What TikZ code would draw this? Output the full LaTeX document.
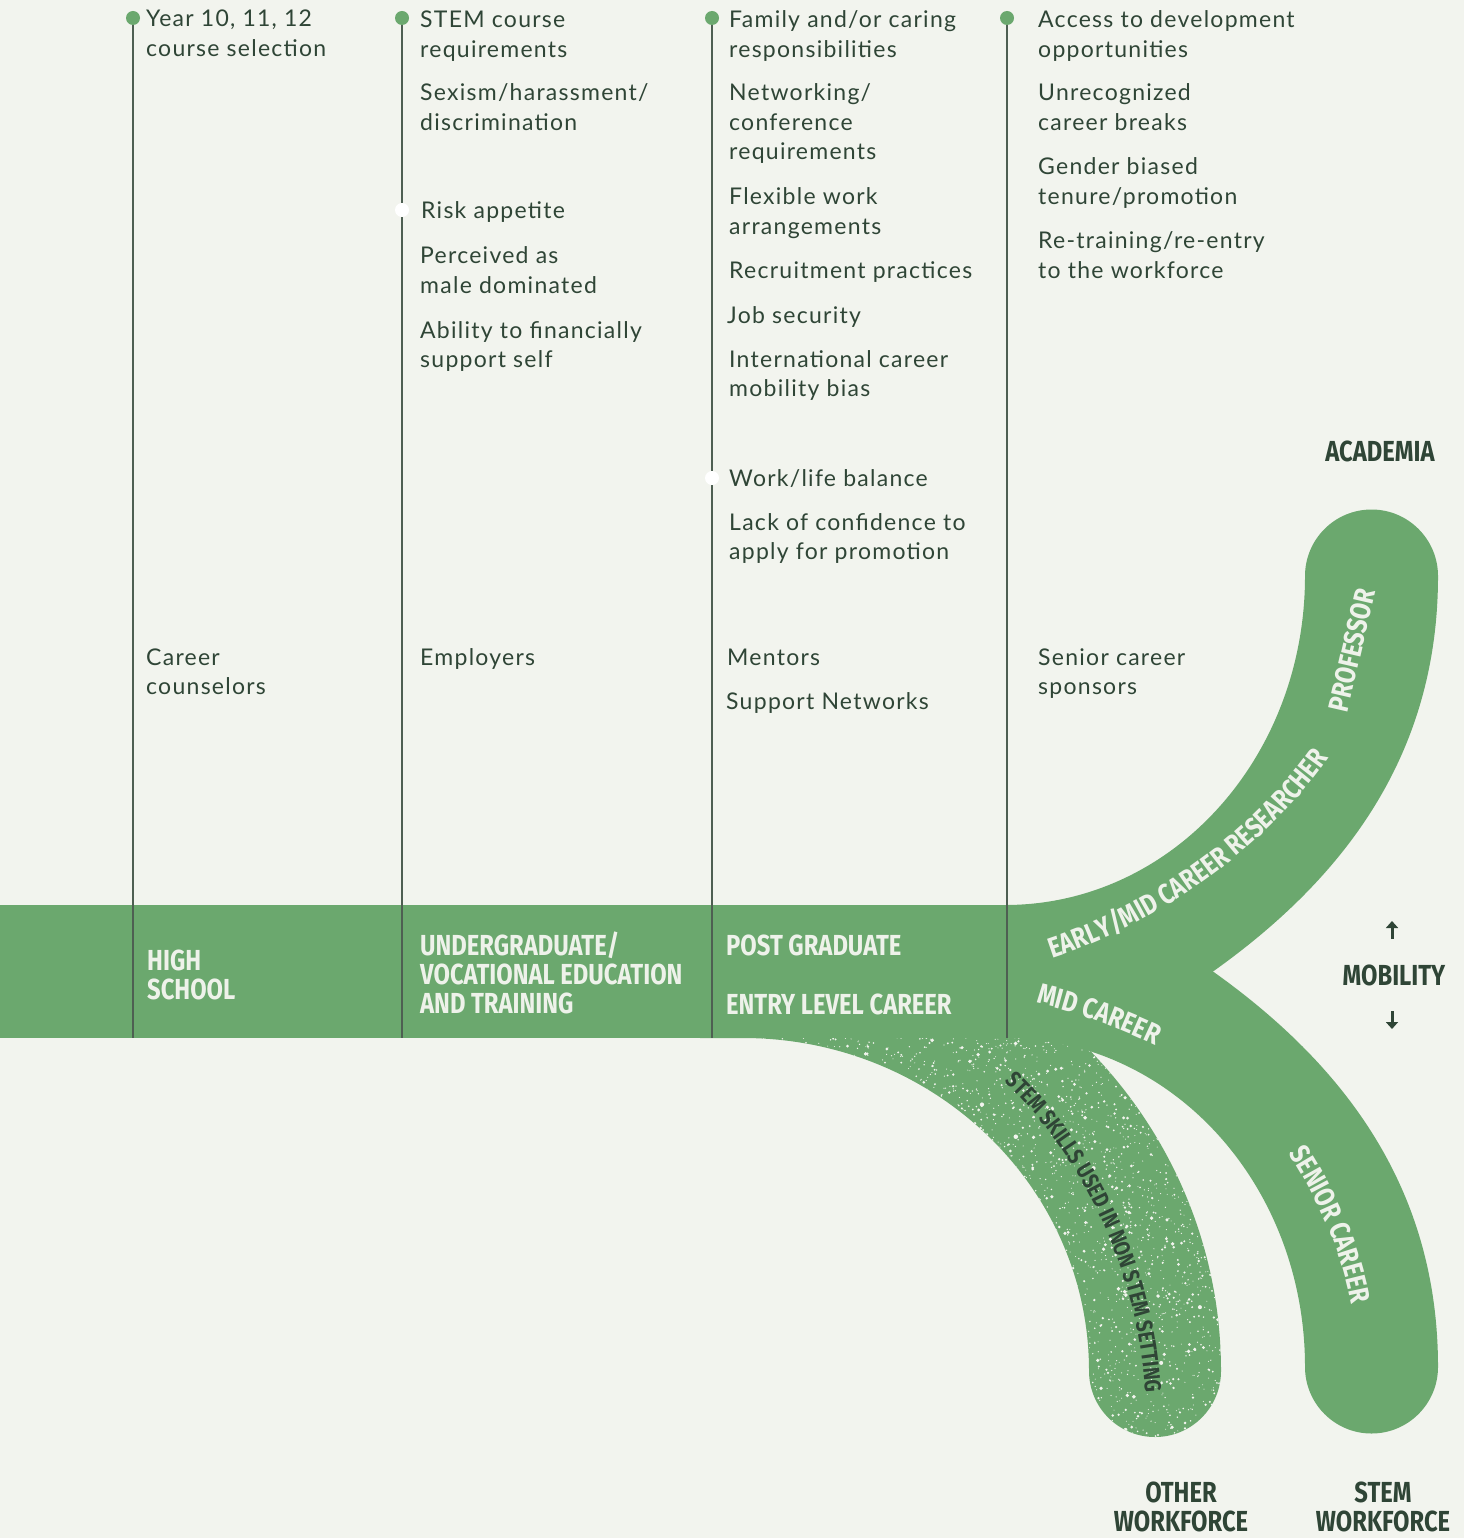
\documentclass[tikz,border=0pt]{standalone}
\usepackage{fontspec}
\usetikzlibrary{decorations.text,arrows.meta}
\setmainfont{Lato}[LetterSpace=5.5]
\newfontfamily\condfont{Fira Sans}[FakeStretch=0.82]
\definecolor{bg}{HTML}{F2F4EE}
\definecolor{grn}{HTML}{6BA86E}
\definecolor{ink}{HTML}{2F4536}
\definecolor{lighttext}{HTML}{EEF2EA}
\definecolor{rulec}{HTML}{4E5F52}
\newcommand\bodyfont{\fontsize{23}{29.5}\selectfont}
\newcommand\bandfont{\condfont\bfseries\fontsize{29}{29}\selectfont}
\newcommand\curvefont{\condfont\bfseries\fontsize{28.5}{28}\selectfont}
\newcommand\smallcurvefont{\condfont\bfseries\fontsize{23}{23}\selectfont}
\tikzset{
  body/.style={font=\bodyfont, text=ink, align=left, anchor=base west, inner sep=0pt},
  bandlbl/.style={font=\bandfont, text=lighttext, align=left, anchor=base west, inner sep=0pt},
  darklbl/.style={font=\bandfont, text=ink, align=center, anchor=base, inner sep=0pt},
  vline/.style={draw=rulec, line width=1.2pt},
  gdot/.style={fill=grn},
  wdot/.style={fill=white},
  mobarrow/.style={draw=ink, line width=3pt, -{Triangle[length=7pt,width=12pt]}}
}
\begin{document}
\begin{tikzpicture}[x=1pt,y=-1pt]
\fill[bg] (0,0) rectangle (1464,1538);
\useasboundingbox (0,0) rectangle (1464,1538);

% speckled branch (other workforce)
\begin{scope}
  \clip (700,905) -- (743,905) .. controls (1007,905) and (1221,1114) .. (1221,1371)
        .. controls (1221,1407.5) and (1191.5,1437) .. (1155,1437)
        .. controls (1118.5,1437) and (1089,1407.5) .. (1089,1371)
        .. controls (1089,1187) and (934,1038) .. (743,1038) -- (700,1038) -- cycle;
  \fill[grn] (690,890) rectangle (1240,1450);
  \pgfmathsetseed{7}
  \foreach \i in {1,...,4600}{
    \pgfmathsetmacro\px{735+495*rnd}
    \pgfmathsetmacro\py{1036+406*rnd}
    \pgfmathsetmacro\pr{0.5+2.4*rnd*rnd*rnd}
    \fill[bg] (\px,\py) circle[radius=\pr pt];
  }
\end{scope}

% band and branches
\fill[grn] (0,905) rectangle (1012,1038);
\fill[grn] (1005,905) .. controls (1172,905) and (1305,758) .. (1305,576)
  .. controls (1305,539.3) and (1334.8,509.5) .. (1371.5,509.5)
  .. controls (1408.2,509.5) and (1438,539.3) .. (1438,576)
  .. controls (1438,756) and (1343,879) .. (1213,971.5) -- (1150,1005) -- (1005,1005) -- cycle;
\fill[grn] (1005,1038) .. controls (1172,1038) and (1305,1185) .. (1305,1367)
  .. controls (1305,1403.7) and (1334.8,1433.5) .. (1371.5,1433.5)
  .. controls (1408.2,1433.5) and (1438,1403.7) .. (1438,1367)
  .. controls (1438,1187) and (1343,1064) .. (1213,971.5) -- (1150,940) -- (1005,940) -- cycle;

% vertical rules
\foreach \x/\n in {133/a,402/b,712/c,1007/d}{
  \coordinate (top\n) at (\x,18);
  \coordinate (bot\n) at (\x,1038);
  \draw[vline] (top\n) -- (bot\n);
  \fill[gdot] (top\n) circle[radius=7pt];
}
\coordinate (wb) at (402,210);
\coordinate (wc) at (712,478);
\fill[wdot] (wb) circle[radius=7pt];
\fill[wdot] (wc) circle[radius=7pt];

% column 1 (anchor = baseline of last line)
\node[body] (t1a) at (146,56.5) {Year 10, 11, 12\\course selection};
\node[body] (t1b) at (146,694.5) {Career\\counselors};
% column 2
\node[body] (t2a) at (420,57.5) {STEM course\\requirements};
\node[body] (t2b) at (420,130.5) {Sexism/harassment/\\discrimination};
\node[body] (t2c) at (421,219) {Risk appetite};
\node[body] (t2d) at (420,293.5) {Perceived as\\male dominated};
\node[body] (t2e) at (420,367.5) {Ability to financially\\support self};
\node[body] (t2f) at (420,665) {Employers};
% column 3
\node[body] (t3a) at (729,57.5) {Family and/or caring\\responsibilities};
\node[body] (t3b) at (729,160) {Networking/\\conference\\requirements};
\node[body] (t3c) at (729,234.5) {Flexible work\\arrangements};
\node[body] (t3d) at (729,278) {Recruitment practices};
\node[body] (t3e) at (727,323) {Job security};
\node[body] (t3f) at (729,396.5) {International career\\mobility bias};
\node[body] (t3g) at (729,486) {Work/life balance};
\node[body] (t3h) at (729,559.5) {Lack of confidence to\\apply for promotion};
\node[body] (t3i) at (727,665) {Mentors};
\node[body] (t3j) at (726,709) {Support Networks};
% column 4
\node[body] (t4a) at (1038,57.5) {Access to development\\opportunities};
\node[body] (t4b) at (1038,130.5) {Unrecognized\\career breaks};
\node[body] (t4c) at (1038,204.5) {Gender biased\\tenure/promotion};
\node[body] (t4d) at (1038,278.5) {Re-training/re-entry\\to the workforce};
\node[body] (t4e) at (1038,694.5) {Senior career\\sponsors};

% band labels
\node[bandlbl] (hs) at (147,999) {HIGH\\SCHOOL};
\node[bandlbl] (ug) at (420,1013) {UNDERGRADUATE/\\VOCATIONAL EDUCATION\\AND TRAINING};
\node[bandlbl] (pg) at (726,955) {POST GRADUATE};
\node[bandlbl] (el) at (726,1014) {ENTRY LEVEL CAREER};

% curved labels
\path[decorate, decoration={text along path, text align=center,
  text={|\curvefont\color{lighttext}|EARLY/MID CAREER RESEARCHER}}]
  (1026,966) .. controls (1150,932) and (1272,850) .. (1344,735);
\path[decorate, decoration={text along path, text align=left,
  text={|\curvefont\color{lighttext}|MID CAREER}}]
  (1036,1003) .. controls (1080,1013) and (1130,1030) .. (1200,1068);
\path[decorate, decoration={text along path, text align=center,
  text={|\curvefont\color{lighttext}|SENIOR CAREER}}]
  (1280,1140) .. controls (1310,1185) and (1342,1242) .. (1354,1320);
\path[decorate, decoration={text along path, text align=center,
  text={|\smallcurvefont\color{ink}|STEM SKILLS USED IN NON STEM SETTING}}]
  (992,1070) .. controls (1070,1138) and (1142,1260) .. (1146,1410);
\node[font=\curvefont, text=lighttext, rotate=77, inner sep=0pt] (prof) at (1352,650) {PROFESSOR};

% right-hand labels
\node[darklbl] (acad) at (1380,461) {ACADEMIA};
\node[darklbl] (mob) at (1394,985) {MOBILITY};
\coordinate (up1) at (1392,939);
\coordinate (up2) at (1392,921);
\coordinate (dn1) at (1392,1011);
\coordinate (dn2) at (1392,1029);
\draw[mobarrow] (up1) -- (up2);
\draw[mobarrow] (dn1) -- (dn2);
\node[darklbl] (ow) at (1181,1531) {OTHER\\WORKFORCE};
\node[darklbl] (sw) at (1383,1531) {STEM\\WORKFORCE};
\end{tikzpicture}
\end{document}
